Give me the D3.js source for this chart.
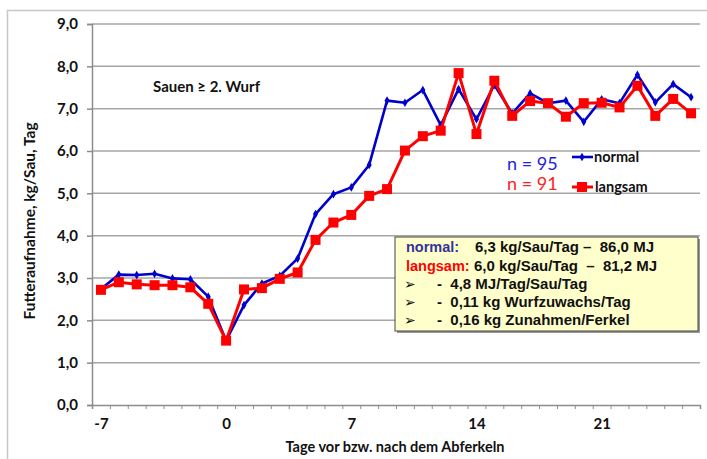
<!DOCTYPE html>
<html><head><meta charset="utf-8">
<script src="https://cdn.jsdelivr.net/npm/d3@7"></script>
<style>
html,body{margin:0;padding:0;background:#fff;}
svg{display:block;}
</style></head>
<body>
<svg id="c" width="707" height="459"></svg>
<script>
const days = d3.range(-7, 27);
const normal = [2.74,3.08,3.07,3.10,2.99,2.97,2.56,1.52,2.36,2.87,3.05,3.46,4.51,4.98,5.14,5.67,7.19,7.14,7.44,6.61,7.46,6.75,7.56,6.89,7.36,7.13,7.19,6.69,7.22,7.13,7.80,7.15,7.58,7.27];
const langsam = [2.72,2.90,2.85,2.83,2.83,2.78,2.39,1.52,2.73,2.76,2.98,3.13,3.90,4.31,4.49,4.94,5.10,6.01,6.35,6.48,7.84,6.40,7.66,6.83,7.18,7.13,6.81,7.13,7.14,7.03,7.54,6.83,7.23,6.89];
const yTicks = [0,1,2,3,4,5,6,7,8,9];
const xLabelTicks = [-7,0,7,14,21];
const yTitle = "Futteraufnahme, kg/Sau, Tag";
const xTitle = "Tage vor bzw. nach dem Abferkeln";
const subtitle = "Sauen ≥ 2. Wurf";
const nLabels = ["n = 95","n = 91"];
const seriesNames = ["normal","langsam"];
const boxLines = [
  {lab:"normal:", txt:"6,3 kg/Sau/Tag –  86,0 MJ"},
  {lab:"langsam:", txt:"6,0 kg/Sau/Tag  –  81,2 MJ"},
  {lab:"➢", txt:"-  4,8 MJ/Tag/Sau/Tag"},
  {lab:"➢", txt:"-  0,11 kg Wurfzuwachs/Tag"},
  {lab:"➢", txt:"-  0,16 kg Zunahmen/Ferkel"}
];

const svg = d3.select("#c");
const FONT = "Lato, 'Open Sans', sans-serif";
const L = 92, R = 700, T = 24, B = 405;

// outer border
svg.append("rect").attr("x",7.5).attr("y",10.5).attr("width",720).attr("height",480)
  .attr("fill","none").attr("stroke","#c8c8c8").attr("stroke-width",1.5);

const x = d3.scaleLinear().domain([-7.5,26.5]).range([L,R]);
const y = d3.scaleLinear().domain([0,9]).range([B,T]);

// gridlines
svg.append("g").selectAll("line").data(yTicks.filter(d=>d>0)).join("line")
  .attr("x1",L).attr("x2",R).attr("y1",d=>y(d)).attr("y2",d=>y(d))
  .attr("stroke","#a6a6a6").attr("stroke-width",1.5);

// y axis
const ya = svg.append("g").attr("transform",`translate(${L},0)`)
  .call(d3.axisLeft(y).tickValues(yTicks).tickSize(5).tickFormat(d=>d3.format(".1f")(d).replace(".",",")));
ya.select(".domain").attr("stroke","#8c8c8c").attr("stroke-width",1.5);
ya.selectAll(".tick line").attr("stroke","#8c8c8c").attr("stroke-width",1.5);
ya.selectAll("text").attr("font-family",FONT).attr("font-weight","bold").attr("font-size",15).attr("fill","#111").attr("x",-14);

// x axis tick marks
const xa = svg.append("g").attr("transform",`translate(0,${B})`)
  .call(d3.axisBottom(x).tickValues(d3.range(-7.5,27,1)).tickSize(4).tickFormat(""));
xa.select(".domain").attr("stroke","#8c8c8c").attr("stroke-width",1.5);
xa.selectAll(".tick line").attr("stroke","#8c8c8c").attr("stroke-width",1);
const xl = svg.append("g").attr("transform",`translate(0,${B})`)
  .call(d3.axisBottom(x).tickValues(xLabelTicks).tickSize(0).tickPadding(13).tickFormat(d=>String(d)));
xl.select(".domain").remove();
xl.selectAll("text").attr("font-family",FONT).attr("font-weight","bold").attr("font-size",15).attr("fill","#111");

// titles
svg.append("text").attr("x",395).attr("y",452).attr("text-anchor","middle")
  .attr("font-family",FONT).attr("font-weight","bold").attr("font-size",14.5).attr("fill","#111").text(xTitle);
svg.append("text").attr("transform","translate(35,221) rotate(-90)").attr("text-anchor","middle")
  .attr("font-family",FONT).attr("font-weight","bold").attr("font-size",15.5).attr("fill","#111").text(yTitle);
svg.append("text").attr("x",153).attr("y",92)
  .attr("font-family",FONT).attr("font-weight","bold").attr("font-size",15).attr("fill","#111").text(subtitle);

// lines
const line = d3.line().x((d,i)=>x(days[i])).y(d=>y(d));
svg.append("path").datum(normal).attr("d",line).attr("fill","none").attr("stroke","#0000cc").attr("stroke-width",2.6).attr("stroke-linejoin","round");
svg.append("g").selectAll("path").data(normal).join("path")
  .attr("transform",(d,i)=>`translate(${x(days[i])},${y(d)})`)
  .attr("d",d3.symbol(d3.symbolDiamond,22)).attr("fill","#0000cc");
svg.append("path").datum(langsam).attr("d",line).attr("fill","none").attr("stroke","#ff0000").attr("stroke-width",3).attr("stroke-linejoin","round");
svg.append("g").selectAll("rect").data(langsam).join("rect")
  .attr("x",(d,i)=>x(days[i])-5).attr("y",d=>y(d)-5).attr("width",10).attr("height",10).attr("fill","#ff0000");

// n labels
svg.append("text").attr("x",507).attr("y",170).attr("font-family",FONT).attr("font-size",18).attr("fill","#2222dd").text(nLabels[0]);
svg.append("text").attr("x",507).attr("y",190).attr("font-family",FONT).attr("font-size",18).attr("fill","#ff2222").text(nLabels[1]);

// legend
svg.append("line").attr("x1",572).attr("x2",593).attr("y1",157).attr("y2",157).attr("stroke","#0000cc").attr("stroke-width",2.6);
svg.append("path").attr("transform","translate(582,157)").attr("d",d3.symbol(d3.symbolDiamond,22)).attr("fill","#0000cc");
svg.append("text").attr("x",594).attr("y",162).attr("font-family",FONT).attr("font-weight","bold").attr("font-size",14.5).attr("fill","#111").text(seriesNames[0]);
svg.append("line").attr("x1",572).attr("x2",593).attr("y1",187).attr("y2",187).attr("stroke","#ff0000").attr("stroke-width",3);
svg.append("rect").attr("x",577).attr("y",182).attr("width",10).attr("height",10).attr("fill","#ff0000");
svg.append("text").attr("x",595).attr("y",192).attr("font-family",FONT).attr("font-weight","bold").attr("font-size",14.5).attr("fill","#111").text(seriesNames[1]);

// text box
const bx = 395, by = 237, bw = 303, bh = 94;
svg.append("rect").attr("x",bx+2).attr("y",by+2).attr("width",bw).attr("height",bh).attr("fill","#999");
svg.append("rect").attr("x",bx).attr("y",by).attr("width",bw).attr("height",bh).attr("fill","#ffffcc").attr("stroke","#444").attr("stroke-width",1);
const BF = "'Liberation Sans', Arial, sans-serif";
const rowY = [252,271,289,307,325];
boxLines.forEach((r,i)=>{
  const col = i===0 ? "#333399" : (i===1 ? "#ff0000" : "#111");
  svg.append("text").attr("x", i<2 ? 406 : 404).attr("y",rowY[i]).attr("font-family", i<2?BF:"'DejaVu Sans', sans-serif")
    .attr("font-weight", i<2?"bold":"normal").attr("font-size", i<2?14.5:14).attr("fill",col).text(r.lab);
  svg.append("text").attr("x", i===0?475:(i===1?474:437)).attr("y",rowY[i]).attr("font-family",BF)
    .attr("font-weight","bold").attr("font-size",15).attr("fill","#111").attr("xml:space","preserve")
    .style("white-space","pre").text(r.txt);
});
</script>
</body></html>
